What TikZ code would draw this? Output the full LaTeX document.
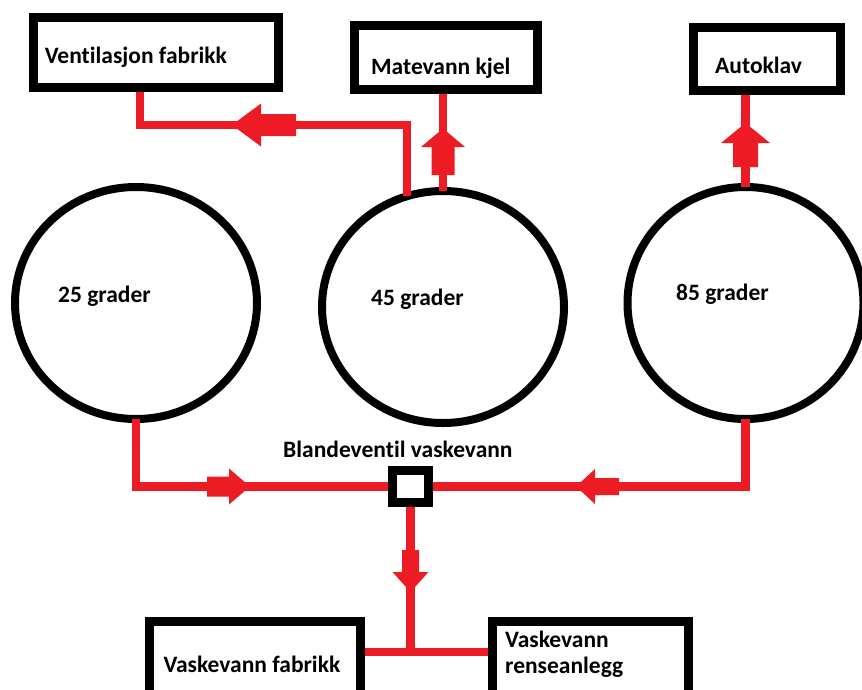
\documentclass[tikz,border=0pt]{standalone}
\usepackage{fontspec}
\setmainfont{Carlito}[Ligatures=NoCommon]
\usetikzlibrary{shapes.geometric}
\definecolor{pipered}{HTML}{ED1C24}
\tikzset{pics/flow/.style n args={4}{code={
  \fill[pipered] (-#1,-#2) -- (0,-#2) -- (0,-#4) -- (#3,0) -- (0,#4) -- (0,#2) -- (-#1,#2) -- cycle;}}}
\begin{document}
\begin{tikzpicture}[x=1pt, y=-1pt,
  box/.style={draw, line width=9pt, inner sep=0pt},
  tank/.style={ellipse, draw, line width=8pt, minimum width=242pt, minimum height=232pt, inner sep=0pt, outer sep=0pt},
  pipe/.style={draw=pipered, line width=8.5pt},
  lbl/.style={anchor=base west, inner sep=0pt, font=\bfseries\fontsize{23.5}{26}\selectfont}
]
\useasboundingbox (0,0) rectangle (862,689);
\clip (0,0) rectangle (862,689);

\node[box, minimum width=245.5pt, minimum height=70pt] (vent) at (155.75,52.5) {};
\node[box, minimum width=182.5pt, minimum height=64.5pt] (mate) at (445.75,57.25) {};
\node[box, minimum width=146.5pt, minimum height=63pt] (auto) at (766.75,59) {};
\node[tank] (t25) at (136,303) {};
\node[tank] (t45) at (443,307) {};
\node[tank, minimum width=236pt] (t85) at (745.5,303) {};
\node[box, minimum width=36pt, minimum height=32pt] (valve) at (410.5,486.5) {};
\node[box, minimum width=211pt, minimum height=80.3pt] (fab) at (254.5,661.85) {};
\node[box, minimum width=196.3pt, minimum height=80.3pt] (rense) at (590.15,661.85) {};

\node[lbl] (ventTxt) at (44.6,63.6) {Ventilasjon fabrikk};
\node[lbl] (mateTxt) at (371,74) {Matevann kjel};
\node[lbl] (autoTxt) at (715,73) {Autoklav};
\node[lbl] (t25Txt) at (58,302.5) {25 grader};
\node[lbl] (t45Txt) at (371,305.7) {45 grader};
\node[lbl] (t85Txt) at (676,300.7) {85 grader};
\node[lbl] (valveTxt) at (283,457) {Blandeventil vaskevann};
\node[lbl] (fabTxt) at (163.3,672.3) {Vaskevann fabrikk};
\node[lbl, align=left] (renseTxt) at (505,673.7) {Vaskevann\\renseanlegg};

\coordinate (vbend) at (140,125);
\coordinate (split) at (410.5,652);
\draw[pipe] (t45.108) |- (vbend) -- (vbend |- vent.south);
\draw[pipe] (t45.north) -- (t45.north |- mate.south);
\draw[pipe] (t85.north) -- (t85.north |- auto.south);
\draw[pipe] (t25.south) |- (valve.west);
\draw[pipe] (t85.south) |- (valve.east);
\draw[pipe] (valve.south) -- (split);
\draw[pipe] (split -| fab.east) -- (split -| rense.west);

\pic[rotate=180] at (261,125) {flow={35}{11}{29}{21.5}};
\pic[rotate=90] at (443,147) {flow={28}{11.5}{18.5}{22}};
\pic[rotate=90] at (745.5,143) {flow={24}{12.5}{20}{24.5}};
\pic at (229,486.5) {flow={22}{10}{21}{18}};
\pic[rotate=180] at (595,486.5) {flow={24}{8.5}{19}{17.5}};
\pic[rotate=-90] at (410.5,572) {flow={22}{8.5}{20}{18}};
\end{tikzpicture}
\end{document}
